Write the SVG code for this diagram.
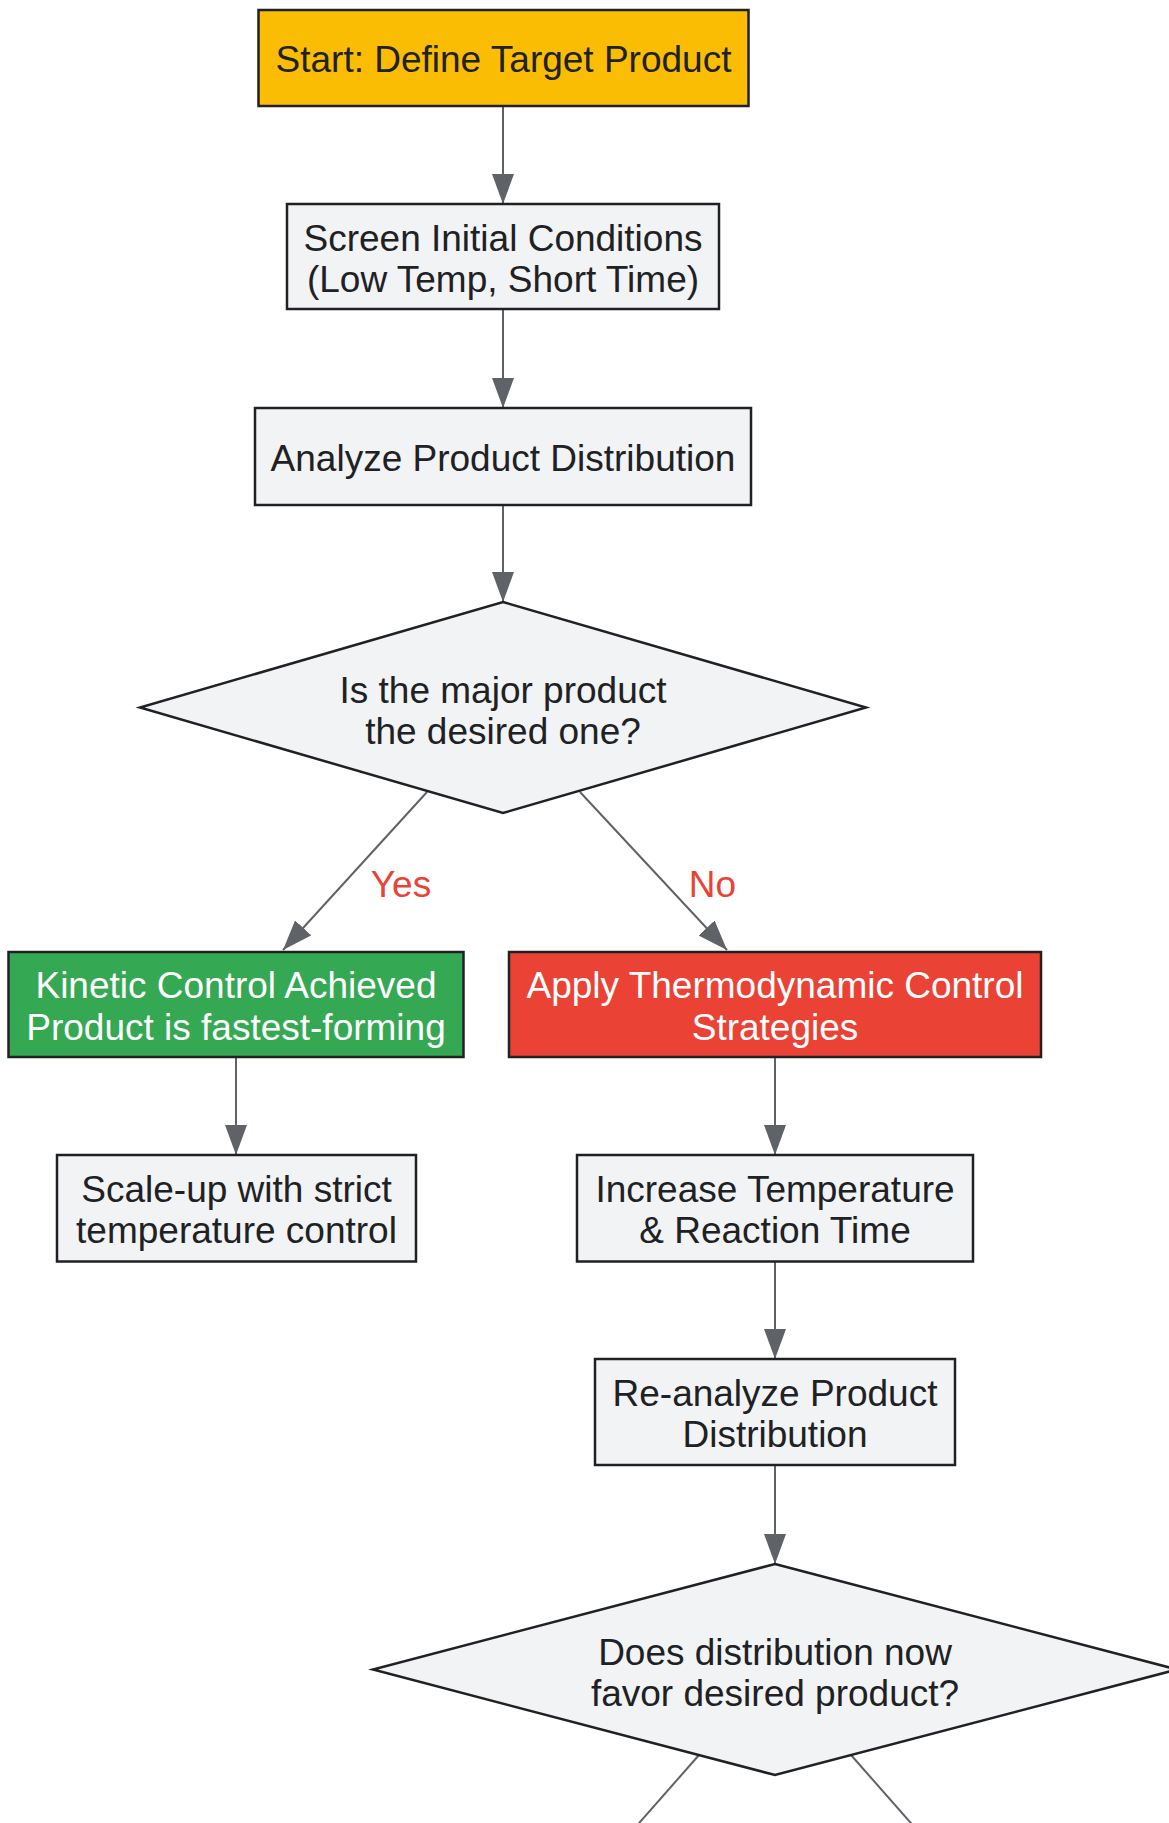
<svg xmlns="http://www.w3.org/2000/svg" width="1169" height="1823" viewBox="0 0 1169 1823">
<style>
  .box { stroke: #202124; stroke-width: 2.5; }
  .plain { fill: #F1F3F4; }
  .t { font-family: "Liberation Sans", Arial, sans-serif; font-size: 37px; text-anchor: middle; fill: #202124; }
  .w { fill: #FFFFFF; }
  .edge { fill: none; stroke: #5F6368; stroke-width: 2; }
  .lbl { font-family: "Liberation Sans", Arial, sans-serif; font-size: 37px; text-anchor: middle; fill: #EA4335; }
</style>
<defs>
  <marker id="arrow" markerUnits="userSpaceOnUse" markerWidth="30" markerHeight="22" viewBox="0 0 30 22" refX="30" refY="11" orient="auto">
    <path d="M0,0 L30,11 L0,22 Z" fill="#5F6368"/>
  </marker>
</defs>
<rect width="1169" height="1823" fill="#FFFFFF"/>
<g id="connectors">
  <path class="edge" d="M503,106 L503,204" marker-end="url(#arrow)"/>
  <path class="edge" d="M503,309 L503,408" marker-end="url(#arrow)"/>
  <path class="edge" d="M503,505 L503,602" marker-end="url(#arrow)"/>
  <path class="edge" d="M427,792 L283,950" marker-end="url(#arrow)"/>
  <path class="edge" d="M580,792 L727,950" marker-end="url(#arrow)"/>
  <path class="edge" d="M236,1057 L236,1155" marker-end="url(#arrow)"/>
  <path class="edge" d="M775,1057 L775,1155" marker-end="url(#arrow)"/>
  <path class="edge" d="M775,1262 L775,1359" marker-end="url(#arrow)"/>
  <path class="edge" d="M775,1465 L775,1564" marker-end="url(#arrow)"/>
  <path class="edge" d="M699,1755 L633,1830"/>
  <path class="edge" d="M851,1755 L917,1830"/>
  <text class="lbl" x="401" y="897">Yes</text>
  <text class="lbl" x="712.5" y="897">No</text>
</g>
<g id="start">
  <rect class="box" x="258.5" y="10" width="490" height="96" fill="#FBBC04"/>
  <text class="t" x="503.5" y="72">Start: Define Target Product</text>
</g>
<g id="screen">
  <rect class="box plain" x="287" y="204" width="432" height="105"/>
  <text class="t" x="503" y="250.5">Screen Initial Conditions</text>
  <text class="t" x="503" y="291.5">(Low Temp, Short Time)</text>
</g>
<g id="analyze">
  <rect class="box plain" x="255" y="408" width="496" height="97"/>
  <text class="t" x="503" y="471">Analyze Product Distribution</text>
</g>
<g id="decision1">
  <polygon class="box plain" points="503,602 866,707.5 503,813 140,707.5"/>
  <text class="t" x="503" y="702.5">Is the major product</text>
  <text class="t" x="503" y="744">the desired one?</text>
</g>
<g id="kinetic">
  <rect class="box" x="8.5" y="952" width="455" height="105" fill="#34A853"/>
  <text class="t w" x="236" y="998">Kinetic Control Achieved</text>
  <text class="t w" x="236" y="1039.5">Product is fastest-forming</text>
</g>
<g id="thermo">
  <rect class="box" x="509" y="952" width="532" height="105" fill="#EA4335"/>
  <text class="t w" x="775" y="998">Apply Thermodynamic Control</text>
  <text class="t w" x="775" y="1039.5">Strategies</text>
</g>
<g id="scaleup">
  <rect class="box plain" x="57" y="1155" width="359" height="106.5"/>
  <text class="t" x="236.5" y="1201.5">Scale-up with strict</text>
  <text class="t" x="236.5" y="1243">temperature control</text>
</g>
<g id="increase">
  <rect class="box plain" x="577" y="1155" width="396" height="106.5"/>
  <text class="t" x="775" y="1201.5">Increase Temperature</text>
  <text class="t" x="775" y="1243">&amp; Reaction Time</text>
</g>
<g id="reanalyze">
  <rect class="box plain" x="595" y="1359" width="360" height="106"/>
  <text class="t" x="775" y="1405.5">Re-analyze Product</text>
  <text class="t" x="775" y="1446.5">Distribution</text>
</g>
<g id="decision2">
  <polygon class="box plain" points="775,1564 1177,1669.5 775,1775 373,1669.5"/>
  <text class="t" x="775" y="1664.5">Does distribution now</text>
  <text class="t" x="775" y="1706">favor desired product?</text>
</g>
</svg>
